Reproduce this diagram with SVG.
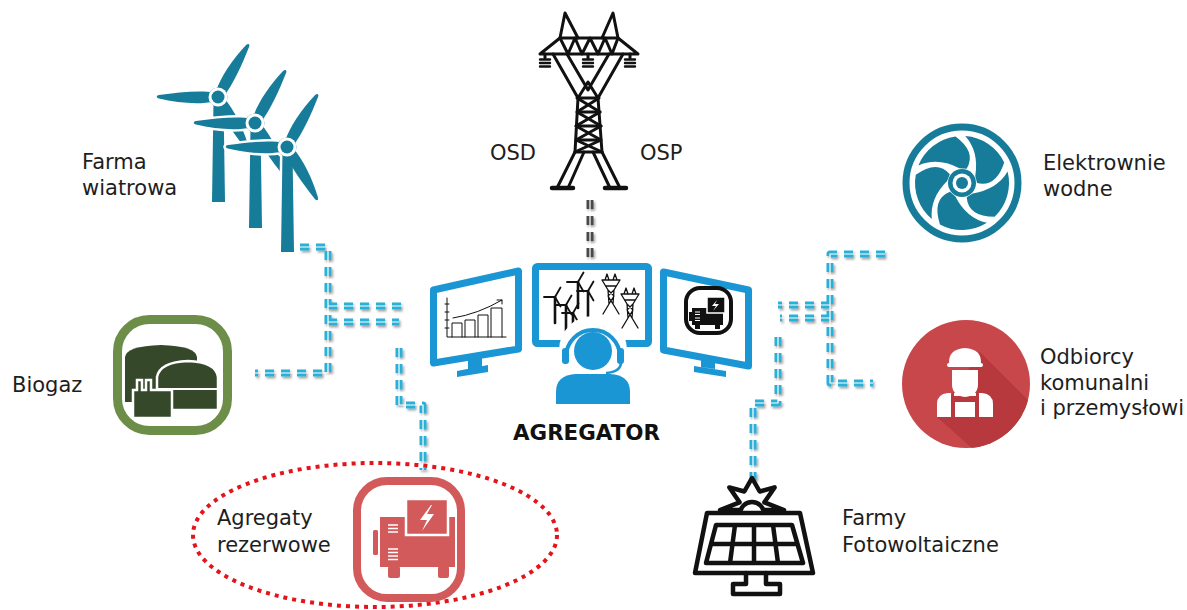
<svg xmlns="http://www.w3.org/2000/svg" width="1187" height="610" viewBox="0 0 1187 610">
<defs>
<style>
.lbl{font-family:"DejaVu Sans","Liberation Sans",sans-serif;font-size:21px;fill:#1e1e1e}
.ttl{font-family:"DejaVu Sans","Liberation Sans",sans-serif;font-size:21px;font-weight:bold;fill:#111}
.wire{fill:none;stroke:#2aafd6;stroke-width:7;stroke-dasharray:9 7;stroke-linejoin:round}
.wire.grey{stroke:#4a4a4a}
.mid{fill:none;stroke:#fff;stroke-width:1.2}
.ink{fill:none;stroke:#111;stroke-linejoin:round;stroke-linecap:round}
.scr{fill:#fff;stroke:#1a96d4;stroke-width:7;stroke-linejoin:round}
</style>
<filter id="sh" x="-20%" y="-20%" width="140%" height="140%">
<feDropShadow dx="1.5" dy="2" stdDeviation="1" flood-color="#000" flood-opacity="0.35"/>
</filter>
<path id="blade" d="M4,-4.5 C18,-7.8 40,-6.2 59,-1.6 C62,-0.8 62,1.2 59,1.9 C40,4.6 18,7 4,4.5 Z"/>
<g id="turbine">
<polygon points="-4.5,4 5.5,4 7,105 -6,105"/>
<use href="#blade" transform="rotate(180)"/>
<use href="#blade" transform="rotate(-60)"/>
<use href="#blade" transform="rotate(60)"/>
<circle r="9.5"/>
</g>
<path id="hblade" d="M4.6,-14.3 Q14.85,-31 -6.5,-46.5 A47,47 0 0 0 -43.6,-17.6 Q-24.5,-26 -2.6,-14.8 Z"/>
<g id="mini">
<line x1="0" y1="0" x2="0" y2="26" stroke-width="2.6"/>
<line x1="0" y1="0" x2="-11" y2="0" stroke-width="1.8"/>
<line x1="0" y1="0" x2="5.5" y2="-9.5" stroke-width="1.8"/>
<line x1="0" y1="0" x2="5.5" y2="9.5" stroke-width="1.8"/>
</g>
<g id="minipylon">
<path d="M-6,0 L-4,-6 L-2,0 M2,0 L4,-6 L6,0 M-9,0 H9 M-9,0 L-3,10 L-2,24 L-8,34 M9,0 L3,10 L2,24 L8,34 M-3,10 L3,16 L-2,24 M3,10 L-3,16 L2,24 M-5,6 L5,6"/>
</g>
<clipPath id="circ"><circle cx="966" cy="384" r="64"/></clipPath>
</defs>

<rect width="1187" height="610" fill="#fff"/>

<!-- connectors -->
<g id="connectors" filter="url(#sh)">
<path class="wire" d="M300,247 H328 V373 H255"/>
<path class="wire" d="M328,306 H404"/>
<path class="wire" d="M328,322 H399"/>
<path class="wire" d="M399,348 V405 H423 V470"/>
<path class="wire" d="M885,254 H830 V383 H873"/>
<path class="wire" d="M830,305 H778"/>
<path class="wire" d="M830,318 H780"/>
<path class="wire" d="M778,337 V403 H753 V480"/>
<path class="wire grey" d="M590,200 V262"/>
</g>
<g id="connector-lines">
<path class="mid" d="M300,247 H328 V373 H255"/>
<path class="mid" d="M328,306 H404"/>
<path class="mid" d="M328,322 H399"/>
<path class="mid" d="M399,348 V405 H423 V470"/>
<path class="mid" d="M885,254 H830 V383 H873"/>
<path class="mid" d="M830,305 H778"/>
<path class="mid" d="M830,318 H780"/>
<path class="mid" d="M778,337 V403 H753 V480"/>
<path class="mid" d="M590,200 V262"/>
</g>

<!-- wind farm -->
<g id="wind-farm">
<use href="#turbine" transform="translate(218,97)" fill="#167c99"/>
<use href="#turbine" transform="translate(255,123)" fill="#fff" stroke="#fff" stroke-width="5"/>
<use href="#turbine" transform="translate(255,123)" fill="#167c99"/>
<use href="#turbine" transform="translate(287,147)" fill="#fff" stroke="#fff" stroke-width="5"/>
<use href="#turbine" transform="translate(287,147)" fill="#167c99"/>
<circle cx="218" cy="97" r="9.5" fill="#fff"/>
<circle cx="218" cy="97" r="6.5" fill="#167c99"/>
<circle cx="255" cy="123" r="9.5" fill="#fff"/>
<circle cx="255" cy="123" r="6.5" fill="#167c99"/>
<circle cx="287" cy="147" r="9.5" fill="#fff"/>
<circle cx="287" cy="147" r="6.5" fill="#167c99"/>
<text class="lbl" x="82" y="169">Farma</text>
<text class="lbl" x="82" y="195">wiatrowa</text>
</g>

<!-- transmission tower -->
<g id="grid">
<g class="ink" stroke-width="3">
<path d="M560,38 L565,13 L578,38 M602,38 L613,13 L618,38"/>
<path d="M540,54 L560,38 H618 L638,54 Z"/>
<path d="M560,38 L568,54 L575,38 L582,54 L590,38 L598,54 L605,38 L612,54 L618,38"/>
<path d="M553,54 L578,98 M623,54 L598,98 M567,54 L588,90 L609,54 M578,98 H598 M578,98 L588,82 L598,98"/>
<path d="M578,98 L575,152 M598,98 L602,152 M577,112 H600 M576,126 H601 M576,140 H601 M575,152 H602"/>
<path d="M577,98 L600,112 L576,126 L601,140 L575,152 M599,98 L577,112 L601,126 L576,140 L602,152"/>
<path d="M575,152 L557,188 M584,152 L568,188 M593,152 L610,188 M602,152 L620,188"/>
</g>
<g stroke="#111" stroke-linecap="round">
<path d="M552,188 H573 M605,188 H626" stroke-width="4.5"/>
<path d="M545,54 V58 M588,54 V58 M630,54 V58" stroke-width="3"/>
<path d="M540,59.5 H550 M540,63 H550 M540,66.5 H550 M583,59.5 H593 M583,63 H593 M583,66.5 H593 M625,59.5 H635 M625,63 H635 M625,66.5 H635" stroke-width="2.4"/>
</g>
<text class="lbl" x="490" y="160">OSD</text>
<text class="lbl" x="640" y="160">OSP</text>
</g>

<!-- hydro -->
<g id="hydro" fill="#167c99">
<circle cx="962" cy="183" r="56" fill="none" stroke="#167c99" stroke-width="7"/>
<use href="#hblade" transform="translate(962,183)"/>
<use href="#hblade" transform="translate(962,183) rotate(72)"/>
<use href="#hblade" transform="translate(962,183) rotate(144)"/>
<use href="#hblade" transform="translate(962,183) rotate(216)"/>
<use href="#hblade" transform="translate(962,183) rotate(288)"/>
<circle cx="962" cy="183" r="14"/>
<circle cx="962" cy="183" r="9.5" fill="#fff"/>
<circle cx="962" cy="183" r="6"/>
<text class="lbl" x="1043" y="170">Elektrownie</text>
<text class="lbl" x="1043" y="196">wodne</text>
</g>

<!-- biogas -->
<g id="biogas">
<rect x="117.5" y="319.5" width="110" height="111" rx="32" fill="#fff" stroke="#6d8e48" stroke-width="9"/>
<path d="M125,402 V357 Q126,346 161,345 Q196,346 197,357 V402 Z" fill="#35492a"/>
<path d="M157,410 V377 Q160,362 188,361 Q216,362 218,377 V410 Z" fill="#35492a" stroke="#fff" stroke-width="2.5"/>
<path d="M157,389 H218" stroke="#fff" stroke-width="2"/>
<path d="M133,418 V390 H137 V380 H142 V390 H146 V380 H151 V390 H172 V418 Z" fill="#35492a" stroke="#fff" stroke-width="2.5"/>
<text class="lbl" x="12" y="392">Biogaz</text>
</g>

<!-- aggregator -->
<g id="agregator">
<path class="scr" d="M433.5,290 L518.5,271 V349 L433.5,363 Z"/>
<path d="M468,356 L482,354 V367 L468,369 Z M457,371 L488,365 V372 L457,377 Z" fill="#1a96d4"/>
<g class="ink" stroke-width="1">
<path d="M447,298 V337 H506"/>
<path d="M445,304 H449 M445,312 H449 M445,320 H449 M445,328 H449"/>
<path d="M452,337 V323 H462 V337 M465,337 V320 H475 V337 M478,337 V315 H488 V337 M491,337 V308 H502 V337"/>
<path d="M453,318 Q478,314 502,300 M497,300 H502 V304"/>
</g>
<rect class="scr" x="535.5" y="266.5" width="113" height="77" rx="2"/>
<g stroke="#111" stroke-linecap="round">
<use href="#mini" transform="translate(555,297)"/>
<use href="#mini" transform="translate(566,305)"/>
<use href="#mini" transform="translate(578,282)"/>
<use href="#mini" transform="translate(588,291)"/>
<use href="#mini" transform="translate(573,313)"/>
</g>
<g class="ink" stroke-width="1.3">
<use href="#minipylon" transform="translate(611,280)"/>
<use href="#minipylon" transform="translate(630,294)"/>
</g>
<path class="scr" d="M663.5,272 L748.5,290 V366 L663.5,350 Z"/>
<path d="M701,356 L715,358 V369 L701,367 Z M694,366 L726,371 V377 L694,372 Z" fill="#1a96d4"/>
<rect x="686" y="288" width="45" height="45" rx="14" fill="none" stroke="#111" stroke-width="4"/>
<g fill="#111">
<rect x="692" y="308" width="31" height="17"/>
<rect x="707" y="297" width="18" height="16" stroke="#fff" stroke-width="1.5"/>
<rect x="689" y="312" width="3" height="9"/>
<rect x="695" y="325" width="5" height="4"/>
<rect x="715" y="325" width="5" height="4"/>
</g>
<path d="M717,300 L712,306 H716 L713,311 L719,304 H715 Z" fill="#fff"/>
<path d="M695,312 H700 M695,314.5 H700 M695,318 H700 M695,320.5 H700" stroke="#fff" stroke-width="1"/>
<circle cx="593" cy="350" r="34" fill="#fff"/>
<g fill="#1a96d4">
<circle cx="593" cy="351" r="19"/>
<path d="M566,357 A27,27 0 0 1 620,357" fill="none" stroke="#1a96d4" stroke-width="4"/>
<rect x="562" y="348" width="7" height="16" rx="3"/>
<rect x="617" y="348" width="7" height="16" rx="3"/>
<path d="M621,362 Q621,372 606,373" fill="none" stroke="#1a96d4" stroke-width="2.5"/>
<path d="M556,404 V392 Q556,375 576,374 H610 Q630,375 630,392 V404 Z"/>
</g>
<text class="ttl" x="513" y="440" textLength="147" lengthAdjust="spacingAndGlyphs">AGREGATOR</text>
</g>

<!-- backup generators -->
<g id="generator">
<ellipse cx="375" cy="535" rx="182" ry="72" fill="none" stroke="#e4141b" stroke-width="4" stroke-dasharray="4 5"/>
<rect x="357" y="481" width="104" height="117" rx="30" fill="#fff" stroke="#d35a5b" stroke-width="8"/>
<g fill="#d35a5b">
<rect x="380" y="517" width="75" height="50"/>
<rect x="406" y="499" width="42" height="36" stroke="#fff" stroke-width="2.5"/>
<rect x="373" y="530" width="5" height="25" rx="1.5"/>
<rect x="388" y="566" width="12" height="12" rx="2"/>
<rect x="438" y="566" width="11" height="12" rx="2"/>
</g>
<path d="M431,505 L420,520 H427 L422,531 L434,514 H427 L432,505 Z" fill="#fff"/>
<path d="M388,525 H398 M388,528.5 H398 M388,532 H398 M388,549 H398 M388,552.5 H398 M388,556 H398 M388,559.5 H398" stroke="#fff" stroke-width="1.5"/>
<text class="lbl" x="217" y="525">Agregaty</text>
<text class="lbl" x="217" y="552">rezerwowe</text>
</g>

<!-- photovoltaic farms -->
<g id="solar" class="ink" stroke-width="4.5">
<polygon points="720,510 739.6,502.3 729.4,487.4 744.3,491.5 752,478 759.7,491.5 774.6,487.4 764.4,502.3 784,510" fill="#fff"/>
<circle cx="752" cy="514" r="12" fill="#fff"/>
<path d="M707,513 H800 L813,573 H695 Z" fill="#fff"/>
<path d="M716,525 H792 L803,563 H706 Z M711,544 H797 M735,525 L730,563 M754,525 L754,563 M773,525 L778,563"/>
<path d="M746,573 V584 H733 V594 H780 V584 H766 V573"/>
<text class="lbl" x="842" y="525" stroke="none">Farmy</text>
<text class="lbl" x="842" y="552" stroke="none">Fotowoltaiczne</text>
</g>

<!-- consumers -->
<g id="consumers">
<circle cx="966" cy="384" r="64" fill="#c8474b"/>
<polygon points="980,352 1060,432 1010,482 937,417" fill="#b7383d" clip-path="url(#circ)"/>
<g fill="#fff">
<path d="M949,364 Q948,349 965,348 Q982,349 981,364 Z"/>
<rect x="947" y="363" width="36" height="4" rx="2"/>
<path d="M952,370 H978 V384 Q978,396 965,397 Q952,396 952,384 Z"/>
<path d="M937,417 V404 Q937,394 948,393 H951 V417 Z"/>
<path d="M993,417 V404 Q993,394 982,393 H979 V417 Z"/>
<rect x="954" y="393" width="22" height="3"/>
<rect x="955" y="402" width="20" height="15"/>
</g>
<text class="lbl" x="1040" y="364">Odbiorcy</text>
<text class="lbl" x="1040" y="390">komunalni</text>
<text class="lbl" x="1040" y="415">i przemysłowi</text>
</g>
</svg>
